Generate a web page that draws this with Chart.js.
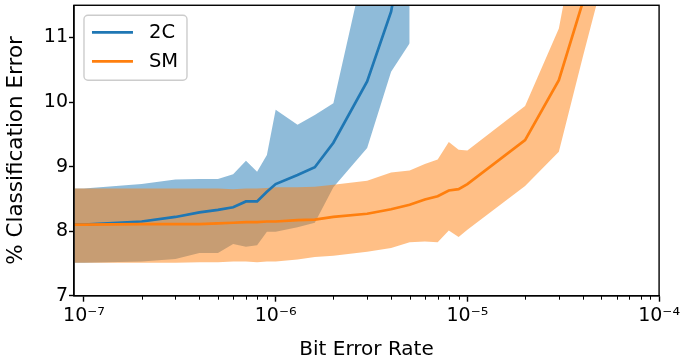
<!DOCTYPE html>
<html lang="en">

<head>
    <meta charset="UTF-8">
    <title>Classification Error vs Bit Error Rate</title>
    <script src="https://cdn.jsdelivr.net/npm/chart.js"></script>
    <style>
        body { margin: 0; background: white; overflow: hidden; }
        .wrap { width: 683px; height: 362px; }
    </style>
</head>

<body>
    <div class="wrap"><canvas id="myChart"></canvas></div>

    <script>
        // bit error rates (x) shared by both models
        const berRates = [8.9e-8, 1e-7, 2e-7, 3e-7, 4e-7, 5e-7, 6e-7, 7e-7, 8e-7, 9e-7, 1e-6, 1.3e-6, 1.6e-6,
            2e-6, 3e-6, 4e-6, 5e-6, 6e-6, 7e-6, 8e-6, 9e-6, 1e-5, 2e-5, 3e-5, 4e-5, 5e-5];

        // 2C (only measured up to 5e-6)
        const mean2C = [8.10, 8.10, 8.15, 8.22, 8.29, 8.33, 8.37, 8.46, 8.46, 8.61, 8.73, 8.87, 8.99, 9.37, 10.32, 11.40, 13.0];
        const upper2C = [8.66, 8.66, 8.73, 8.80, 8.81, 8.81, 8.88, 9.09, 8.92, 9.18, 9.88, 9.65, 9.80, 9.98, 12.3, 13.5, 14.5];
        const lower2C = [7.51, 7.51, 7.53, 7.57, 7.66, 7.66, 7.80, 7.76, 7.78, 7.99, 7.99, 8.06, 8.13, 8.68, 9.29, 10.47, 10.91];

        // SM
        const meanSM = [8.10, 8.10, 8.11, 8.11, 8.11, 8.12, 8.13, 8.14, 8.14, 8.15, 8.15, 8.17, 8.18, 8.22, 8.27, 8.34, 8.41,
            8.49, 8.54, 8.63, 8.65, 8.73, 9.41, 10.34, 11.55, 13.5];
        const upperSM = [8.66, 8.66, 8.66, 8.66, 8.66, 8.66, 8.65, 8.66, 8.66, 8.67, 8.68, 8.68, 8.69, 8.72, 8.78, 8.91, 8.94,
            9.04, 9.11, 9.38, 9.26, 9.25, 9.94, 11.14, 13.1, 15.0];
        const lowerSM = [7.51, 7.51, 7.51, 7.51, 7.52, 7.52, 7.53, 7.53, 7.52, 7.53, 7.53, 7.56, 7.60, 7.62, 7.68, 7.74, 7.83,
            7.84, 7.83, 8.01, 7.91, 8.02, 8.70, 9.23, 10.70, 11.8];

        const yTicks = [7, 8, 9, 10, 11];

        const blue = '#1f77b4';
        const orange = '#ff7f0e';
        const font = "'DejaVu Sans', sans-serif";

        function points(ys) {
            return ys.map((y, i) => ({ x: berRates[i], y: y }));
        }

        const supers = { '-': '\u207B', '4': '\u2074', '5': '\u2075', '6': '\u2076', '7': '\u2077' };
        function powerLabel(e) {
            return '10' + String(e).split('').map(c => supers[c]).join('');
        }

        function isDecade(v) {
            const e = Math.log10(v);
            return Math.abs(e - Math.round(e)) < 1e-6;
        }

        // every 1..9 x 10^n tick for the log axis
        const xTickValues = [];
        for (let e = -7; e < -4; e++) {
            for (let m = 1; m < 10; m++) xTickValues.push(m * Math.pow(10, e));
        }
        xTickValues.push(1e-4);

        // frame, minor ticks and legend box like matplotlib
        const extras = {
            id: 'extras',
            afterDraw(chart) {
                const c = chart.ctx;
                const a = chart.chartArea;
                const xs = chart.scales.x;

                c.save();
                c.strokeStyle = 'black';
                c.lineWidth = 1.4;
                c.strokeRect(a.left, a.top, a.right - a.left, a.bottom - a.top);

                // minor ticks
                c.lineWidth = 1;
                xTickValues.forEach(v => {
                    if (isDecade(v)) return;
                    const px = Math.round(xs.getPixelForValue(v)) + 0.5;
                    c.beginPath();
                    c.moveTo(px, a.bottom);
                    c.lineTo(px, a.bottom + 4);
                    c.stroke();
                });

                // legend
                const lx = a.left + 10, ly = a.top + 10, lw = 103, lh = 65;
                c.fillStyle = 'rgba(255,255,255,0.8)';
                c.strokeStyle = '#cccccc';
                c.lineWidth = 1.4;
                c.beginPath();
                c.roundRect(lx, ly, lw, lh, 4);
                c.fill();
                c.stroke();

                const items = [['2C', blue], ['SM', orange]];
                c.font = '19.5px ' + font;
                c.textBaseline = 'middle';
                items.forEach((it, i) => {
                    const y = ly + 17 + i * 29;
                    c.strokeStyle = it[1];
                    c.lineWidth = 2.7;
                    c.beginPath();
                    c.moveTo(lx + 8, y);
                    c.lineTo(lx + 49, y);
                    c.stroke();
                    c.fillStyle = 'black';
                    c.fillText(it[0], lx + 65, y + 1);
                });
                c.restore();
            }
        };

        new Chart(document.getElementById('myChart'), {
            type: 'line',
            data: {
                datasets: [
                    { label: 'SM', data: points(meanSM), borderColor: orange, borderWidth: 2.7, pointRadius: 0, fill: false },
                    { label: '2C', data: points(mean2C), borderColor: blue, borderWidth: 2.7, pointRadius: 0, fill: false },
                    { label: 'SM upper', data: points(upperSM), borderWidth: 0, pointRadius: 0, fill: { target: 3 }, backgroundColor: 'rgba(255,127,14,0.5)' },
                    { label: 'SM lower', data: points(lowerSM), borderWidth: 0, pointRadius: 0, fill: false },
                    { label: '2C upper', data: points(upper2C), borderWidth: 0, pointRadius: 0, fill: { target: 5 }, backgroundColor: 'rgba(31,119,180,0.5)' },
                    { label: '2C lower', data: points(lower2C), borderWidth: 0, pointRadius: 0, fill: false }
                ]
            },
            options: {
                responsive: true,
                maintainAspectRatio: false,
                animation: false,
                layout: { padding: 0 },
                plugins: {
                    legend: { display: false },
                    tooltip: { enabled: false }
                },
                scales: {
                    x: {
                        type: 'logarithmic',
                        min: 8.87e-8,
                        max: 1e-4,
                        afterBuildTicks: scale => { scale.ticks = xTickValues.map(v => ({ value: v })); },
                        ticks: {
                            autoSkip: false,
                            maxRotation: 0,
                            color: 'black',
                            font: { family: font, size: 19 },
                            padding: 3,
                            callback: v => isDecade(v) ? powerLabel(Math.round(Math.log10(v))) : ''
                        },
                        grid: {
                            drawOnChartArea: false,
                            tickLength: 6,
                            tickWidth: 1.4,
                            tickColor: ctx => (ctx.tick && isDecade(ctx.tick.value)) ? 'black' : 'rgba(0,0,0,0)'
                        },
                        border: { display: true, color: 'black', width: 1.4 },
                        title: { display: true, text: 'Bit Error Rate', color: 'black', font: { family: font, size: 20 }, padding: { top: 7.5, bottom: 0 } }
                    },
                    y: {
                        min: 7,
                        max: 11.5,
                        afterBuildTicks: scale => { scale.ticks = yTicks.map(v => ({ value: v })); },
                        ticks: {
                            color: 'black',
                            font: { family: font, size: 19, lineHeight: 0.45 },
                            padding: 1
                        },
                        grid: { drawOnChartArea: false, tickLength: 5, tickWidth: 1.4, tickColor: 'black' },
                        border: { display: true, color: 'black', width: 1.4 },
                        title: { display: true, text: '% Classification Error', color: 'black', font: { family: font, size: 21.5 }, padding: { top: 4, bottom: 13 } }
                    }
                }
            },
            plugins: [extras]
        });
    </script>
</body>

</html>
